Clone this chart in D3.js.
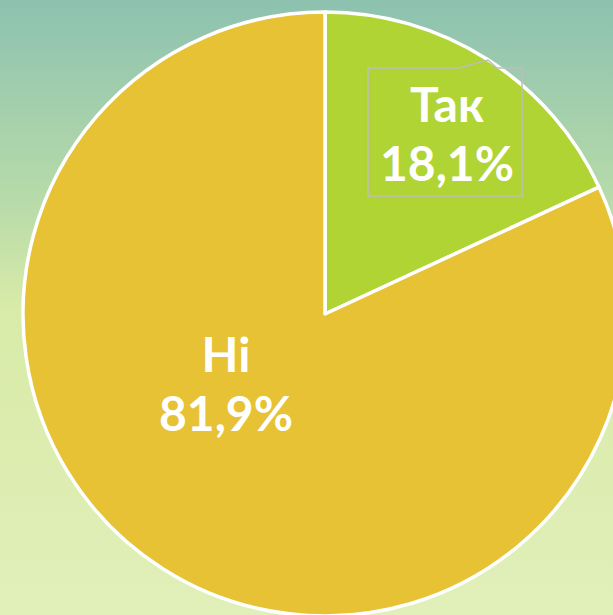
<!DOCTYPE html>
<html>
<head>
<meta charset="utf-8">
<script src="https://cdn.jsdelivr.net/npm/d3@7"></script>
<style>
  html, body { margin: 0; padding: 0; overflow: hidden; }
  svg { display: block; }
  .slice-label { font-family: Lato, "Noto Sans", sans-serif; font-weight: 700; fill: #fff; }
</style>
</head>
<body>
<svg id="chart" width="613" height="615"></svg>
<script>
const categories = ["Так", "Ні"];
const values = [18.1, 81.9];
const labels = ["18,1%", "81,9%"];
const colors = ["#b0d434", "#e6c234"];

const width = 613, height = 615;
const svg = d3.select("#chart");
const cx = 325, cy = 314, radius = 302;

let defs = svg.append("defs");
let grad = defs.append("linearGradient")
  .attr("id", "bg").attr("x1", "0%").attr("y1", "0%").attr("x2", "0%").attr("y2", "100%");
grad.append("stop").attr("offset", "0%").attr("stop-color", "#8dc2b0");
grad.append("stop").attr("offset", "33%").attr("stop-color", "#b8dba9");
grad.append("stop").attr("offset", "50%").attr("stop-color", "#d8eba8");
grad.append("stop").attr("offset", "100%").attr("stop-color", "#e1efb9");

svg.append("rect").attr("width", width).attr("height", height).attr("fill", "url(#bg)");

let pie = d3.pie().sort(null).value(d => d);
let arc = d3.arc().innerRadius(0).outerRadius(radius);
let arcs = pie(values);

let g = svg.append("g").attr("transform", `translate(${cx},${cy})`);

g.selectAll("path.slice")
  .data(arcs)
  .enter()
  .append("path")
  .attr("class", "slice")
  .attr("d", arc)
  .attr("fill", (d, i) => colors[i])
  .attr("stroke", "#fff")
  .attr("stroke-width", 3.5)
  .attr("stroke-linejoin", "round");

// label baselines, relative to the pie centre
let labelPos = [
  [122, -192],
  [-99, 58]
];

// callout box around the "Так" label
let bx = 368 - cx, by = 68 - cy;
g.append("path")
  .attr("d", `M${bx},${by} H${459 - cx} L${488 - cx},${60 - cy} L${497 - cx},${68 - cy} H${522 - cx} V${196 - cy} H${bx} Z`)
  .attr("fill", "none")
  .attr("stroke", "#bdbdbd")
  .attr("stroke-width", 1.5);

arcs.forEach((d, i) => {
  let [lx, ly] = labelPos[i];
  let text = g.append("text")
    .attr("class", "slice-label")
    .attr("text-anchor", "middle")
    .attr("font-size", 48);
  text.append("tspan").attr("x", lx).attr("y", ly).text(categories[i]);
  text.append("tspan").attr("x", lx).attr("y", ly + 59).text(labels[i]);
});
</script>
</body>
</html>
